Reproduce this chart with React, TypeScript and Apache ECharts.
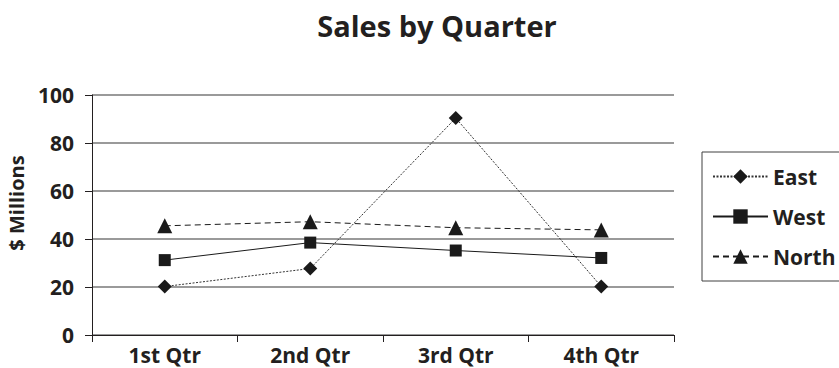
import React, { useEffect, useRef } from "react";
import * as echarts from "echarts";

const quarters = ["1st Qtr", "2nd Qtr", "3rd Qtr", "4th Qtr"];
const east = [20.2, 27.7, 90.4, 20.2];
const west = [31.2, 38.5, 35.2, 32.1];
const north = [45.5, 47.2, 44.7, 43.8];
const yTicks = { min: 0, max: 100, interval: 20 };
const yTitle = "$ Millions";

const FONT = "'Open Sans', 'DejaVu Sans', sans-serif";

export default function App() {
  const ref = useRef<HTMLDivElement>(null);

  useEffect(() => {
    if (!ref.current) return;
    const chart = echarts.init(ref.current, null, { renderer: "svg" });
    const textStyle = { fontFamily: FONT, fontWeight: "bold" as const, color: "#231f20" };
    chart.setOption({
      animation: false,
      backgroundColor: "#ffffff",
      title: {
        text: "Sales by Quarter",
        left: 432,
        top: 6,
        textAlign: "center",
        textStyle: { ...textStyle, fontSize: 29 },
      },
      grid: { left: 92, right: 165, top: 95, bottom: 33, containLabel: false },
      legend: {
        orient: "vertical",
        left: 702,
        top: 152,
        padding: [14, 40, 14, 10],
        itemWidth: 55,
        itemHeight: 18,
        itemGap: 19,
        borderColor: "#404040",
        borderWidth: 1,
        textStyle: { ...textStyle, fontSize: 21 },
        data: ["East", "West", "North"],
      },
      graphic: [
        {
          type: "text",
          x: 16,
          y: 203,
          rotation: Math.PI / 2,
          style: {
            text: yTitle,
            fontFamily: FONT,
            fontWeight: "bold",
            fontSize: 20,
            fill: "#231f20",
            align: "center",
            verticalAlign: "middle",
          },
        },
      ],
      xAxis: {
        type: "category",
        data: quarters,
        boundaryGap: true,
        axisLine: { lineStyle: { color: "#231f20", width: 1 } },
        axisTick: { show: true, alignWithLabel: false, length: 7, lineStyle: { color: "#231f20" } },
        axisLabel: { ...textStyle, fontSize: 21, margin: 9 },
        splitLine: { show: false },
      },
      yAxis: {
        type: "value",
        min: yTicks.min,
        max: yTicks.max,
        interval: yTicks.interval,
        axisLine: { show: true, lineStyle: { color: "#231f20", width: 1 } },
        axisTick: { show: true, length: 7, lineStyle: { color: "#231f20" } },
        axisLabel: { ...textStyle, fontSize: 21, margin: 18 },
        splitLine: { show: true, lineStyle: { color: "#9a9a9a", width: 2 } },
      },
      series: [
        {
          name: "East",
          type: "line",
          data: east,
          symbol: "diamond",
          symbolSize: 14,
          itemStyle: { color: "#1a1a1a" },
          lineStyle: { color: "#333333", width: 1, type: [2, 1.5] },
        },
        {
          name: "West",
          type: "line",
          data: west,
          symbol: "rect",
          symbolSize: 12,
          itemStyle: { color: "#1a1a1a" },
          lineStyle: { color: "#1a1a1a", width: 1, type: "solid" },
        },
        {
          name: "North",
          type: "line",
          data: north,
          symbol: "triangle",
          symbolSize: 15,
          itemStyle: { color: "#1a1a1a" },
          lineStyle: { color: "#1a1a1a", width: 1, type: [6, 4] },
        },
      ],
    });
    return () => chart.dispose();
  }, []);

  return <div ref={ref} style={{ width: 839, height: 368, position: "absolute", left: 0, top: 0 }} />;
}
